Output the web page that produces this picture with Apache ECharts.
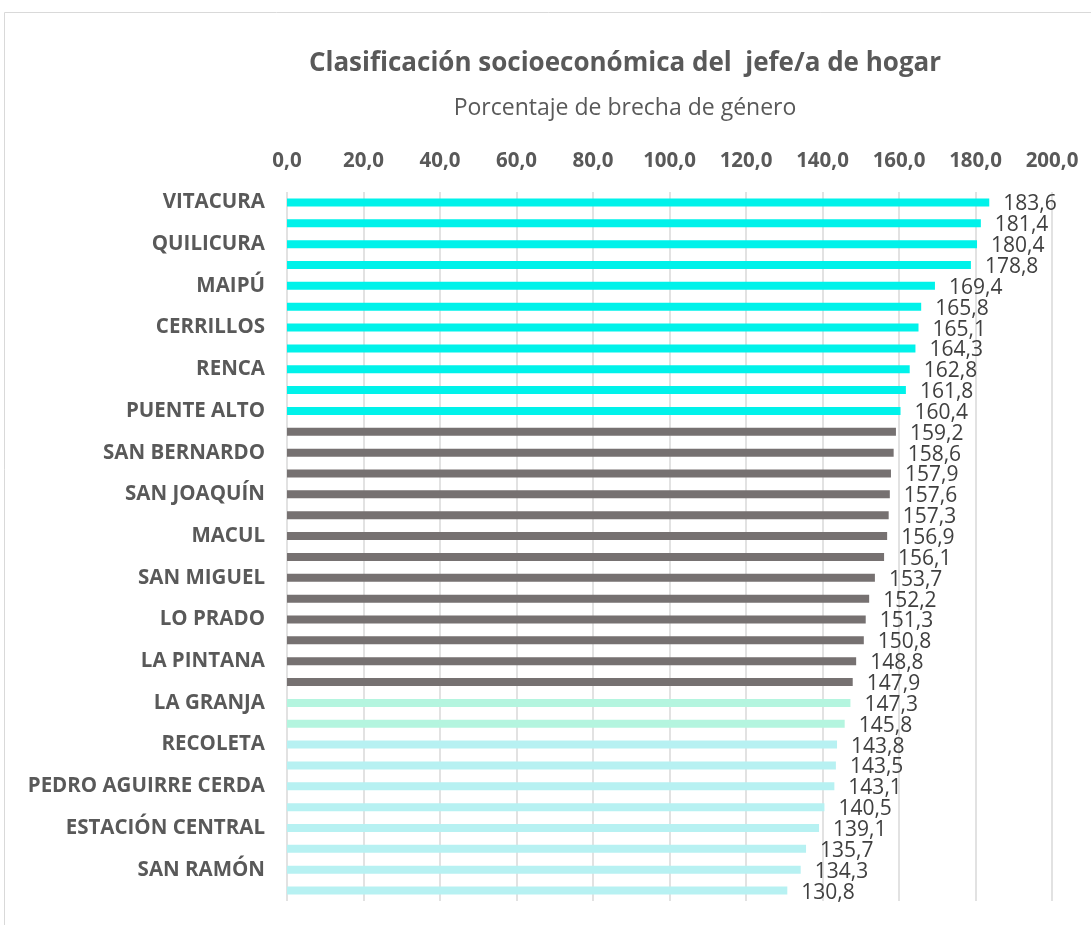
<!DOCTYPE html>
<html>
<head>
    <meta charset="utf-8">
    <title>Clasificación socioeconómica del jefe/a de hogar</title>
    <script src="https://cdn.jsdelivr.net/npm/echarts@6/dist/echarts.min.js"></script>
    <style>
        html, body { margin: 0; padding: 0; background: #fff; }
    </style>
</head>
<body>
<div id="grafico" style="width: 1091px;height:925px;"></div>
<script type="text/javascript">
    // comunas, de mayor a menor brecha (solo una de cada dos se rotula)
    var comunas = ['VITACURA', 'LO BARNECHEA', 'QUILICURA', 'LAS CONDES', 'MAIPÚ', 'PROVIDENCIA',
        'CERRILLOS', 'ÑUÑOA', 'RENCA', 'LA REINA', 'PUENTE ALTO', 'PEÑALOLÉN',
        'SAN BERNARDO', 'LA FLORIDA', 'SAN JOAQUÍN', 'HUECHURABA', 'MACUL', 'PUDAHUEL',
        'SAN MIGUEL', 'QUINTA NORMAL', 'LO PRADO', 'CONCHALÍ', 'LA PINTANA', 'EL BOSQUE',
        'LA GRANJA', 'INDEPENDENCIA', 'RECOLETA', 'LA CISTERNA', 'PEDRO AGUIRRE CERDA', 'LO ESPEJO',
        'ESTACIÓN CENTRAL', 'CERRO NAVIA', 'SAN RAMÓN', 'SANTIAGO'];
    var brecha = [183.6, 181.4, 180.4, 178.8, 169.4, 165.8, 165.1, 164.3, 162.8, 161.8, 160.4,
        159.2, 158.6, 157.9, 157.6, 157.3, 156.9, 156.1, 153.7, 152.2, 151.3, 150.8, 148.8, 147.9,
        147.3, 145.8,
        143.8, 143.5, 143.1, 140.5, 139.1, 135.7, 134.3, 130.8];
    // grupo de cada barra (define el color)
    var grupo = ['A','A','A','A','A','A','A','A','A','A','A',
        'B','B','B','B','B','B','B','B','B','B','B','B','B',
        'C','C',
        'D','D','D','D','D','D','D','D'];
    var ticks = [0, 20, 40, 60, 80, 100, 120, 140, 160, 180, 200];

    var colores = {A: '#00F2EA', B: '#767171', C: '#B4F5DF', D: '#B7F1F2'};
    var fuente = '"Open Sans", "Noto Sans", sans-serif';
    function coma(v) { return v.toFixed(1).replace('.', ','); }

    var datos = [];
    brecha.forEach(function (v, i) {
        datos.push({value: v, itemStyle: {color: colores[grupo[i]]}});
    });

    var chart = echarts.init(document.getElementById('grafico'));
    var option = {
        backgroundColor: '#fff',
        animation: false,
        textStyle: {fontFamily: fuente},
        title: {
            text: 'Clasificación socioeconómica del  jefe/a de hogar',
            subtext: 'Porcentaje de brecha de género',
            left: 620,
            textAlign: 'center',
            top: 46,
            itemGap: 20,
            textStyle: {fontFamily: fuente, fontSize: 26, fontWeight: 'bold', color: '#595959'},
            subtextStyle: {fontFamily: fuente, fontSize: 23, color: '#595959'}
        },
        graphic: [{
            type: 'rect',
            shape: {x: 4.5, y: 12.5, width: 1100, height: 1000},
            style: {fill: 'none', stroke: '#d9d9d9', lineWidth: 1},
            silent: true
        }],
        grid: {left: 287, right: 39, top: 192, bottom: 24},
        xAxis: {
            type: 'value',
            position: 'top',
            min: ticks[0],
            max: ticks[ticks.length - 1],
            interval: 20,
            axisLine: {show: false},
            axisTick: {show: false},
            splitLine: {lineStyle: {color: '#d9d9d9', width: 1.5}},
            axisLabel: {
                margin: 20,
                fontFamily: fuente,
                fontSize: 20.5,
                fontWeight: 'bold',
                color: '#595959',
                formatter: function (v) { return coma(v); }
            }
        },
        yAxis: {
            type: 'category',
            inverse: true,
            data: comunas,
            axisLine: {show: false},
            axisTick: {show: false},
            axisLabel: {
                interval: 1,
                margin: 22,
                fontFamily: fuente,
                fontSize: 20.5,
                fontWeight: 'bold',
                color: '#595959'
            }
        },
        series: [{
            type: 'bar',
            barWidth: 8,
            data: datos,
            label: {
                show: true,
                position: 'right',
                distance: 14,
                offset: [0, 2],
                fontFamily: fuente,
                fontSize: 21,
                color: '#404040',
                formatter: function (p) { return coma(p.value); }
            }
        }]
    };
    chart.setOption(option);
</script>
</body>
</html>
